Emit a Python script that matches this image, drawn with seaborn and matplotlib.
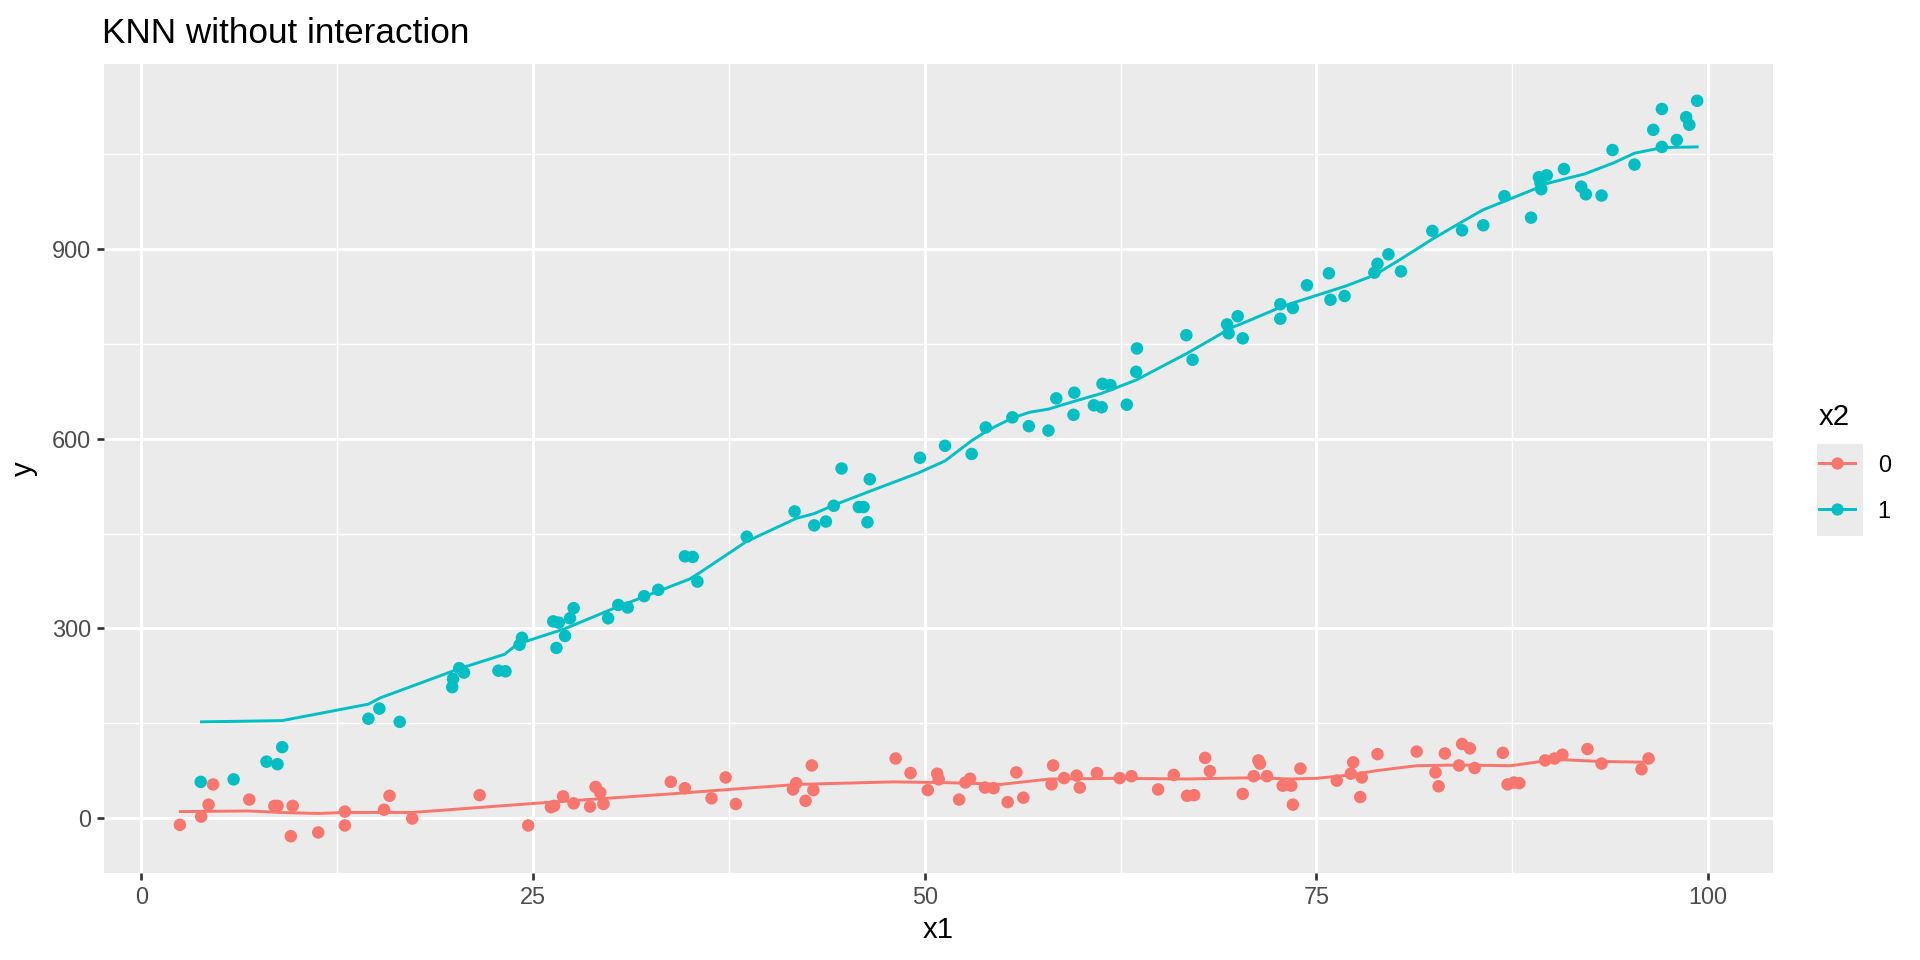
import numpy as np
import pandas as pd
import matplotlib
matplotlib.use("Agg")
import matplotlib.pyplot as plt
from matplotlib.lines import Line2D
from matplotlib.patches import Rectangle
import seaborn as sns

# observed points, group x2 = 0
x1_g0 = [2.47, 3.83, 4.3, 4.59, 6.9, 8.5, 8.7, 9.67, 9.55, 11.3, 13.0, 13.0, 15.5, 15.85, 17.3,
         21.6, 24.7, 26.15, 26.35, 26.93, 27.6, 28.65, 29.0, 29.3, 29.5, 33.8, 34.7, 36.4, 37.3,
         37.95, 41.6, 41.8, 42.4, 42.8, 42.9, 48.15, 49.1, 50.2, 50.8, 50.9, 52.2, 52.6, 52.9,
         53.85, 54.4, 55.3, 55.85, 56.3, 58.1, 58.2, 58.9, 59.7, 59.9, 61.0, 62.45, 63.2, 64.9,
         65.9, 66.75, 67.2, 67.9, 68.2, 70.3, 71.0, 71.3, 71.4, 71.85, 72.85, 73.4, 73.5, 73.98,
         76.3, 77.2, 77.35, 77.8, 77.9, 78.9, 81.4, 82.6, 82.8, 83.2, 84.1, 84.3, 84.8, 85.1,
         86.9, 87.2, 87.6, 87.95, 89.6, 90.2, 90.7, 92.3, 93.2, 95.75, 96.2]
y_g0 = [-11, 2, 21, 53, 29, 19, 19, 19, -29, -23, 10, -12, 13, 35, -1,
        36, -12, 17, 19, 34, 23, 18, 49, 40, 22, 57, 47, 31, 64,
        22, 45, 55, 27, 83, 44, 94, 71, 44, 70, 61, 29, 56, 62,
        48, 47, 25, 72, 32, 53, 83, 63, 67, 48, 71, 63, 66, 45,
        68, 35, 36, 95, 74, 38, 66, 91, 86, 66, 51, 51, 21, 78,
        59, 70, 88, 33, 64, 101, 105, 72, 50, 102, 83, 117, 110, 79,
        103, 53, 56, 55, 91, 94, 100, 109, 86, 77, 94]

# observed points, group x2 = 1
x1_g1 = [3.8, 5.9, 8.0, 8.7, 9.0, 14.5, 15.2, 16.5, 19.85, 19.9, 20.3, 20.6, 22.8, 23.25,
         24.15, 24.3, 26.5, 26.3, 26.65, 27.05, 27.37, 27.6, 29.8, 30.45, 31.05, 32.1, 33.0,
         34.7, 35.2, 35.5, 38.65, 41.7, 42.95, 43.7, 44.2, 44.7, 45.8, 46.1, 46.35, 46.5,
         49.7, 51.3, 53.0, 53.9, 55.6, 56.65, 57.9, 58.4, 59.5, 59.55, 60.8, 61.3, 61.35,
         61.86, 62.9, 63.5, 63.55, 66.7, 67.1, 69.3, 69.4, 69.98, 70.3, 72.7, 72.7, 73.5,
         74.4, 75.8, 75.9, 76.8, 78.7, 78.9, 79.6, 80.4, 82.4, 84.3, 85.65, 87.0, 88.7, 89.2,
         89.3, 89.35, 89.7, 90.8, 91.9, 92.2, 93.2, 93.9, 95.3, 96.5, 97.05, 97.05, 98.0,
         98.6, 98.8, 99.3]
y_g1 = [57, 61, 89, 85, 112, 157, 173, 152, 207, 220, 237, 230, 233, 232,
        274, 285, 269, 311, 309, 288, 316, 332, 316, 337, 333, 351, 361,
        414, 413, 374, 445, 485, 463, 469, 494, 553, 492, 492, 468, 536,
        570, 589, 576, 618, 634, 620, 613, 664, 638, 673, 653, 650, 687,
        685, 654, 706, 743, 764, 725, 781, 767, 794, 759, 813, 790, 807,
        843, 862, 820, 826, 863, 877, 892, 865, 929, 930, 938, 984, 950, 1014,
        1005, 995, 1017, 1027, 999, 987, 985, 1057, 1034, 1089, 1062, 1122, 1073,
        1109, 1097, 1135]

# KNN fitted curves
fit_x_g0 = [2.5, 6.8, 9.0, 11.3, 13.0, 17.3, 26.2, 33.8, 38.05, 41.9, 48.0, 50.8, 52.7, 54.85,
            58.0, 62.5, 66.75, 71.0, 73.35, 75.0, 77.2, 78.9, 81.4, 84.0, 87.4, 89.7, 90.8,
            93.1, 96.2]
fit_y_g0 = [10, 11, 8.5, 7, 8.6, 8.6, 25, 38, 46, 53, 57, 56, 55, 53,
            61.6, 62.6, 61.6, 63.6, 61.6, 62.6, 68, 75, 82.6, 83.7, 82.6, 90.5, 92,
            89.4, 88]
fit_x_g1 = [3.85, 9.0, 14.5, 15.26, 20.4, 23.2, 24.0, 27.0, 30.0, 35.0, 35.7, 38.6, 41.8, 43.0,
            44.2, 46.4, 49.6, 51.3, 53.0, 54.0, 55.6, 56.7, 57.9, 59.5, 61.3, 63.5, 66.8,
            69.6, 70.4, 72.7, 73.5, 75.9, 76.9, 78.7, 80.3, 82.4, 84.2, 85.6, 87.0, 88.9,
            89.4, 90.8, 92.1, 94.0, 95.3, 97.1, 99.3]
fit_y_g1 = [152, 154, 180, 190, 237, 259, 275, 299, 330, 378, 389, 437, 474, 482,
            495, 516, 546, 565, 597, 613, 633, 642, 647, 659, 672, 693, 736,
            776, 784, 808, 815, 834, 842, 859, 883, 916, 942, 962, 976, 995,
            1002, 1011, 1019, 1037, 1052, 1061, 1062]

levels = ["0", "1"]
colors = ["#F8766D", "#00BFC4"]
x_major = [0, 25, 50, 75, 100]
y_major = [0, 300, 600, 900]

pts = pd.concat([
    pd.DataFrame({"x1": x1_g0, "y": y_g0, "x2": "0"}),
    pd.DataFrame({"x1": x1_g1, "y": y_g1, "x2": "1"}),
], ignore_index=True)
fit = pd.concat([
    pd.DataFrame({"x1": fit_x_g0, "y": fit_y_g0, "x2": "0"}),
    pd.DataFrame({"x1": fit_x_g1, "y": fit_y_g1, "x2": "1"}),
], ignore_index=True)

plt.rcParams["font.family"] = ["Liberation Sans", "DejaVu Sans"]
palette = dict(zip(levels, colors))

fig = plt.figure(figsize=(10, 5), dpi=192)
ax = fig.add_axes([104 / 1920, 87 / 960, 1669 / 1920, 809 / 960])
ax.set_facecolor("#EBEBEB")

sns.scatterplot(data=pts, x="x1", y="y", hue="x2", hue_order=levels, palette=palette,
                s=22, linewidth=0, legend=False, ax=ax, zorder=3)
sns.lineplot(data=fit, x="x1", y="y", hue="x2", hue_order=levels, palette=palette,
             estimator=None, linewidth=1.1, legend=False, ax=ax, zorder=4)

# ggplot-like 5% expansion
allx = pts["x1"]
ally = pts["y"]
px = 0.05 * (allx.max() - allx.min())
py = 0.05 * (ally.max() - ally.min())
ax.set_xlim(allx.min() - px, allx.max() + px)
ax.set_ylim(ally.min() - py, ally.max() + py)

ax.set_xticks(x_major)
ax.set_xticks([12.5, 37.5, 62.5, 87.5], minor=True)
ax.set_yticks(y_major)
ax.set_yticks([150, 450, 750, 1050], minor=True)
ax.grid(which="major", color="white", linewidth=1.1)
ax.grid(which="minor", color="white", linewidth=0.55)
ax.set_axisbelow(True)
for sp in ax.spines.values():
    sp.set_visible(False)
ax.tick_params(which="major", length=2.75, width=1.0, color="#333333",
               labelsize=8.8, labelcolor="#4D4D4D", pad=2.2)
ax.tick_params(which="minor", length=0)

ax.set_xlabel("x1", fontsize=11, color="black", labelpad=2.5)
ax.set_ylabel("y", fontsize=11, color="black", labelpad=5)
ax.set_title("KNN without interaction", fontsize=13.2, loc="left", pad=8, x=-0.001)

handles = [Line2D([0], [0], color=c, linewidth=1.1, marker="o", markersize=4.6,
                  markeredgewidth=0) for c in colors]
leg = fig.legend(handles, levels, title="x2", loc="upper left",
                 bbox_to_anchor=(1819 / 1920, 1 - 403 / 960), frameon=False,
                 fontsize=8.8, title_fontsize=11, handlelength=1.55, handleheight=1.0,
                 handletextpad=0.95, labelspacing=0.96, borderpad=0, borderaxespad=0,
                 alignment="left")
fig.add_artist(Rectangle((1817 / 1920, 1 - 536 / 960), 46 / 1920, 92 / 960,
                         transform=fig.transFigure, facecolor="#EBEBEB",
                         edgecolor="none", zorder=-1))

fig.savefig("out.png", dpi=192)
